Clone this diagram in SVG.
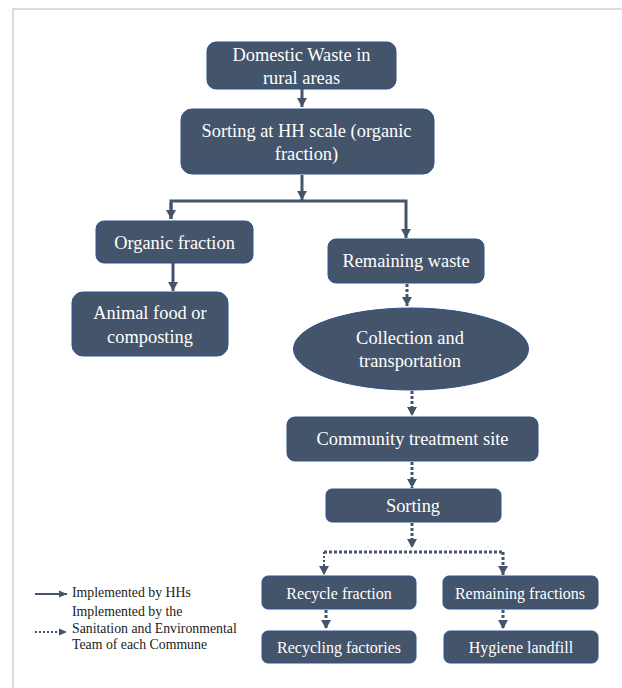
<svg xmlns="http://www.w3.org/2000/svg" width="622" height="688" viewBox="0 0 622 688">
<style>
.node{fill:#44546A;stroke:#2F528F;stroke-width:1}
.t{font-family:'Liberation Serif','Times New Roman',Times,'DejaVu Serif',serif;fill:#FFFFFF;text-anchor:middle;font-size:18.4px}
.s{font-size:16px}
.lg{font-family:'Liberation Serif','Times New Roman',Times,'DejaVu Serif',serif;fill:#222222;font-size:13.8px}
.solid{stroke:#44546A;stroke-width:3;fill:none}
.dot{stroke:#44546A;stroke-width:3;fill:none;stroke-dasharray:3 2}
.thin{stroke:#44546A;stroke-width:2;fill:none}
.thindot{stroke:#44546A;stroke-width:2;fill:none;stroke-dasharray:2 2}
</style>
<defs>
<marker id="ah" markerUnits="userSpaceOnUse" markerWidth="12" markerHeight="12" viewBox="0 0 12 12" refX="10" refY="6" orient="auto">
<path d="M1,1 L10,6 L1,11 Z" fill="#44546A"/>
</marker>
<marker id="ahs" markerUnits="userSpaceOnUse" markerWidth="10" markerHeight="10" viewBox="0 0 10 10" refX="9" refY="5" orient="auto">
<path d="M1,1.5 L9,5 L1,8.5 Z" fill="#44546A"/>
</marker>
</defs>
<rect width="622" height="688" fill="#FFFFFF"/>
<path d="M13,688 V9 H622" fill="none" stroke="#D0D0D0" stroke-width="1.5"/>

<g id="connectors">
<path class="solid" d="M302,89 V107" marker-end="url(#ah)"/>
<path class="solid" d="M302,175 V200" marker-end="url(#ah)"/>
<path class="solid" d="M171,219 V201 H406 V238" marker-end="url(#ah)"/>
<path class="solid" d="M171,203 V219" marker-end="url(#ah)"/>
<path class="solid" d="M173,263 V291" marker-end="url(#ah)"/>
<path class="dot" d="M407,284 V306" marker-end="url(#ah)"/>
<path class="dot" d="M412,391 V416" marker-end="url(#ah)"/>
<path class="dot" d="M412,462 V488" marker-end="url(#ah)"/>
<path class="dot" d="M412,523 V548" marker-end="url(#ah)"/>
<path class="dot" d="M324,552 H503"/>
<path class="thindot" d="M324,552 V575" marker-end="url(#ah)"/>
<path class="dot" d="M503,552 V575" marker-end="url(#ah)"/>
<path class="dot" d="M326,610 V629" marker-end="url(#ah)"/>
<path class="dot" d="M503,610 V629" marker-end="url(#ah)"/>
</g>

<g id="n1"><rect class="node" x="207" y="42" width="189" height="47" rx="9"/><text class="t" x="301.5" y="61">Domestic Waste in</text><text class="t" x="301.5" y="83.5">rural areas</text></g>
<g id="n2"><rect class="node" x="181" y="109" width="253" height="65" rx="11"/><text class="t" x="306.5" y="137">Sorting at HH scale (organic</text><text class="t" x="306.5" y="160">fraction)</text></g>
<g id="n3"><rect class="node" x="96" y="221" width="157" height="42" rx="8"/><text class="t" x="174.5" y="248.5">Organic fraction</text></g>
<g id="n4"><rect class="node" x="72" y="292" width="156" height="64" rx="11"/><text class="t" x="150" y="318.5">Animal food or</text><text class="t" x="150" y="342.5">composting</text></g>
<g id="n5"><rect class="node" x="328" y="239" width="156" height="44" rx="8"/><text class="t" x="406" y="267">Remaining waste</text></g>
<g id="n6"><ellipse class="node" cx="411" cy="349" rx="117.5" ry="41"/><text class="t" x="410" y="343.5">Collection and</text><text class="t" x="410" y="366.5">transportation</text></g>
<g id="n7"><rect class="node" x="287" y="417" width="251" height="44" rx="8"/><text class="t" x="412.5" y="445">Community treatment site</text></g>
<g id="n8"><rect class="node" x="326" y="489" width="175" height="33" rx="6"/><text class="t" x="413" y="511.5">Sorting</text></g>
<g id="n9"><rect class="node" x="262" y="576" width="154" height="33" rx="6"/><text class="t s" x="339" y="598.5">Recycle fraction</text></g>
<g id="n10"><rect class="node" x="443" y="576" width="155" height="33" rx="6"/><text class="t s" x="520" y="598.5">Remaining fractions</text></g>
<g id="n11"><rect class="node" x="262" y="631" width="154" height="32" rx="6"/><text class="t s" x="339" y="652.5">Recycling factories</text></g>
<g id="n12"><rect class="node" x="444" y="631" width="154" height="32" rx="6"/><text class="t s" x="521" y="652.5">Hygiene landfill</text></g>

<g id="legend">
<path class="thin" d="M35,594 H67" marker-end="url(#ahs)"/>
<text class="lg" x="72" y="597">Implemented by HHs</text>
<path class="thindot" d="M35,632 H67" marker-end="url(#ahs)"/>
<text class="lg" x="72" y="616">Implemented by the</text>
<text class="lg" x="72" y="632.5">Sanitation and Environmental</text>
<text class="lg" x="72" y="649">Team of each Commune</text>
</g>
</svg>
